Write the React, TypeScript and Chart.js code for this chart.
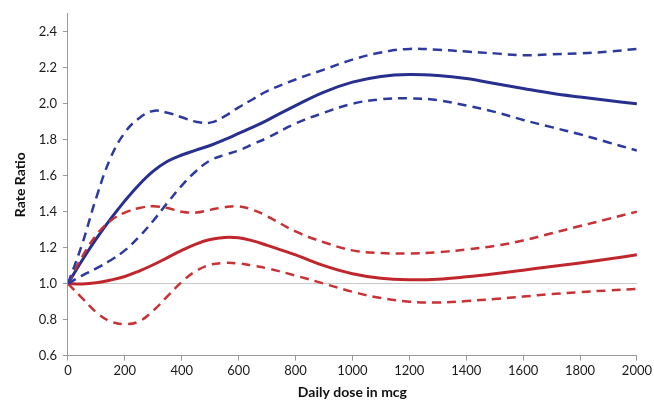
import React, { useEffect, useRef } from "react";
import { Chart, registerables } from "chart.js";

Chart.register(...registerables);

const doses = [0, 50, 100, 150, 200, 250, 300, 350, 400, 450, 500, 550, 600, 650, 700, 800, 900, 1000, 1100, 1200, 1300, 1400, 1500, 1600, 1700, 1800, 1900, 2000];

const blueMain = [1.0, 1.13, 1.25, 1.36, 1.46, 1.55, 1.625, 1.68, 1.715, 1.742, 1.768, 1.8, 1.835, 1.87, 1.908, 1.99, 2.065, 2.12, 2.152, 2.163, 2.157, 2.14, 2.113, 2.085, 2.058, 2.037, 2.018, 2.0];
const blueUpper = [1.0, 1.22, 1.48, 1.7, 1.84, 1.92, 1.96, 1.95, 1.925, 1.9, 1.895, 1.93, 1.98, 2.025, 2.07, 2.135, 2.19, 2.245, 2.285, 2.305, 2.3, 2.29, 2.28, 2.27, 2.275, 2.28, 2.29, 2.305];
const blueLower = [1.0, 1.045, 1.085, 1.13, 1.185, 1.26, 1.35, 1.45, 1.545, 1.625, 1.685, 1.715, 1.74, 1.775, 1.81, 1.89, 1.95, 2.0, 2.025, 2.03, 2.02, 1.99, 1.955, 1.91, 1.87, 1.83, 1.785, 1.74];
const redMain = [1.0, 0.998, 1.005, 1.02, 1.04, 1.07, 1.105, 1.145, 1.185, 1.22, 1.245, 1.257, 1.255, 1.238, 1.213, 1.16, 1.1, 1.055, 1.03, 1.022, 1.025, 1.038, 1.055, 1.075, 1.095, 1.115, 1.137, 1.16];
const redUpper = [1.0, 1.15, 1.27, 1.35, 1.395, 1.42, 1.43, 1.42, 1.4, 1.395, 1.41, 1.425, 1.43, 1.41, 1.375, 1.29, 1.23, 1.185, 1.17, 1.168, 1.175, 1.19, 1.21, 1.24, 1.28, 1.32, 1.36, 1.4];
const redLower = [1.0, 0.92, 0.84, 0.79, 0.775, 0.79, 0.85, 0.93, 1.01, 1.07, 1.105, 1.115, 1.112, 1.1, 1.085, 1.045, 1.0, 0.955, 0.92, 0.9, 0.895, 0.903, 0.915, 0.928, 0.942, 0.953, 0.962, 0.97];

const xTitle = "Daily dose in mcg";
const yTitle = "Rate Ratio";

const BLUE = "#27308f";
const BLUE_D = "#2c3a9e";
const RED = "#c0272d";
const RED_D = "#c83234";

function pts(ys: number[]) {
  return doses.map((x, i) => ({ x, y: ys[i] }));
}

export default function App() {
  const ref = useRef<HTMLCanvasElement>(null);
  useEffect(() => {
    if (!ref.current) return;
    const mk = (label: string, ys: number[], color: string, dashed: boolean) => ({
      label,
      data: pts(ys),
      borderColor: color,
      backgroundColor: color,
      borderWidth: dashed ? 2.5 : 3,
      borderDash: dashed ? [9, 6] : [],
      pointRadius: 0,
      tension: 0.4,
      fill: false,
    });
    const chart = new Chart(ref.current, {
      type: "line",
      data: {
        datasets: [
          mk("Blue lower", blueLower, BLUE_D, true),
          mk("Blue upper", blueUpper, BLUE_D, true),
          mk("Red lower", redLower, RED_D, true),
          mk("Red upper", redUpper, RED_D, true),
          mk("Blue", blueMain, BLUE, false),
          mk("Red", redMain, RED, false),
        ],
      },
      options: {
        animation: false,
        responsive: true,
        maintainAspectRatio: false,
        layout: { padding: { top: 12, right: 14, left: 8, bottom: 0 } },
        plugins: { legend: { display: false }, tooltip: { enabled: false } },
        scales: {
          x: {
            type: "linear",
            min: 0,
            max: 2000,
            ticks: {
              stepSize: 200,
              color: "#1a1a1a",
              font: { family: "Lato", size: 13 },
              padding: 2,
              callback: (v: any) => String(v),
            },
            grid: { drawOnChartArea: false, color: "#999", tickLength: 5 },
            border: { color: "#999" },
            title: { display: true, text: xTitle, color: "#111", font: { family: "Lato", size: 14, weight: "bold" }, padding: { top: 4 } },
          },
          y: {
            type: "linear",
            min: 0.6,
            max: 2.5,
            afterBuildTicks: (axis: any) => {
              axis.ticks = axis.ticks.filter((t: any) => t.value < 2.45);
            },
            ticks: {
              stepSize: 0.2,
              color: "#1a1a1a",
              font: { family: "Lato", size: 13 },
              callback: (v: any) => Number(v).toFixed(1),
              padding: 6,
            },
            grid: {
              color: (ctx: any) => (ctx.tick && Math.abs(ctx.tick.value - 1) < 1e-6 ? "#c8c8c8" : "rgba(0,0,0,0)"),
              tickColor: "#999",
              tickLength: 5,
            },
            border: { color: "#999" },
            title: { display: true, text: yTitle, color: "#111", font: { family: "Lato", size: 14, weight: "bold" } },
          },
        },
      },
    });
    return () => chart.destroy();
  }, []);
  return (
    <div style={{ position: "fixed", left: 0, top: 0, width: 654, height: 405, background: "#fff" }}>
      <canvas ref={ref} />
    </div>
  );
}
